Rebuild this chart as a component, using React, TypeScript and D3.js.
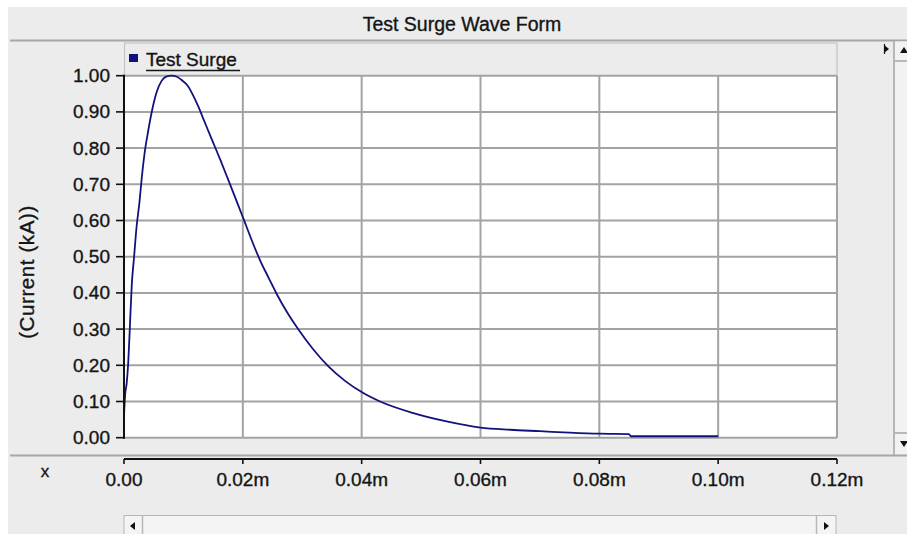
import React from "react";
import * as d3 from "d3";

// surge current samples (x in axis units, y in kA)
const surgeTime = [
  0, 0.0002, 0.00045, 0.00072, 0.001, 0.0013, 0.0017, 0.0021, 0.0026, 0.003, 0.0035,
  0.0041, 0.0048, 0.0055, 0.0063, 0.0072, 0.008, 0.0089, 0.0097, 0.0106, 0.0115,
  0.0125, 0.0135, 0.0145, 0.0162, 0.0176, 0.0192, 0.0201, 0.0218, 0.0229, 0.0243,
  0.0257, 0.0275, 0.0293, 0.0318, 0.0344, 0.0372, 0.0402, 0.0431, 0.0487, 0.0543,
  0.06, 0.065, 0.07, 0.075, 0.08, 0.085, 0.0853, 0.1,
];
const surgeCurrent = [
  0.06, 0.12, 0.15, 0.21, 0.31, 0.42, 0.5, 0.58, 0.65, 0.72, 0.79,
  0.85, 0.91, 0.955, 0.985, 0.998, 1.0, 0.997, 0.988, 0.975, 0.95,
  0.915, 0.875, 0.835, 0.768, 0.71, 0.643, 0.605, 0.533, 0.49, 0.443,
  0.397, 0.345, 0.3, 0.245, 0.197, 0.157, 0.124, 0.1, 0.068, 0.045,
  0.028, 0.022, 0.018, 0.014, 0.011, 0.01, 0.004, 0.004,
];

const xTicks = [0, 0.02, 0.04, 0.06, 0.08, 0.1, 0.12];
const xTickLabels = ["0.00", "0.02m", "0.04m", "0.06m", "0.08m", "0.10m", "0.12m"];
const yTicks = [0, 0.1, 0.2, 0.3, 0.4, 0.5, 0.6, 0.7, 0.8, 0.9, 1.0];

const seriesName = "Test Surge";
const title = "Test Surge Wave Form";
const yLabel = "(Current (kA))";

const W = 907;
const H = 534;
const font = "'Liberation Sans', Arial, sans-serif";
const ink = "#151515";
const bg = "#ececec";
const gridCol = "#a3a3a3";
const navy = "#12127c";

// slightly heavier text, like the original screen capture
const txt = { fill: ink, stroke: ink, strokeWidth: 0.35 };

const App = () => {
  const xScale = d3.scaleLinear().domain([0, 0.12]).range([124, 837]);
  const yScale = d3.scaleLinear().domain([0, 1]).range([437.7, 75.7]);
  const pts = surgeTime.map((t, i) => [t, surgeCurrent[i]] as [number, number]);
  const line = d3.line<[number, number]>()
    .x(d => xScale(d[0]))
    .y(d => yScale(d[1]))
    .curve(d3.curveMonotoneX);
  const fmt = d3.format(".2f");

  const left = xScale(0);
  const right = xScale(0.12);
  const top = yScale(1);
  const bottom = yScale(0);

  return (
    <svg width={W} height={H} style={{ position: "absolute", left: 0, top: 0 }} fontFamily={font}>
      <rect x={0} y={0} width={W} height={H} fill="#fff" />
      <rect x={8} y={7} width={W - 8} height={H - 7} fill={bg} />

      {/* title bar */}
      <text x={462} y={24} textAnchor="middle" dominantBaseline="central" fontSize={19.5} {...txt}>{title}</text>
      <line x1={10} x2={W} y1={40.5} y2={40.5} stroke="#a6a6a6" strokeWidth={2} />

      {/* right panel + scrollbar */}
      <line x1={894} x2={894} y1={41} y2={455} stroke="#a6a6a6" strokeWidth={1.5} />
      <rect x={895} y={41.5} width={12} height={413} fill="#f2f2f2" />
      <line x1={895} x2={W} y1={61} y2={61} stroke="#a6a6a6" strokeWidth={1.5} />
      <line x1={895} x2={W} y1={433} y2={433} stroke="#a6a6a6" strokeWidth={1.5} />
      <path d="M900,53 L904,47 L908,53 Z" fill="#111" />
      <path d="M900,441 L904,447 L908,441 Z" fill="#111" />
      <path d="M884,45 L889,49 L884,53 Z" fill="#111" />
      <line x1={884.5} x2={884.5} y1={44} y2={54} stroke="#111" strokeWidth={1.2} />

      {/* legend */}
      <rect x={124.5} y={43} width={712.5} height={33} fill={bg} stroke="#c4c4c4" strokeWidth={1.2} />
      <rect x={129} y={54} width={9} height={8} fill={navy} />
      <text x={146} y={66} fontSize={19} {...txt}>{seriesName}</text>
      <line x1={146} x2={240} y1={70.5} y2={70.5} stroke={ink} strokeWidth={1.3} />

      {/* plot area */}
      <rect x={left} y={top} width={right - left} height={bottom - top} fill="#fff" />
      {yTicks.map(v => (
        <line key={"gy" + v} x1={left} x2={right} y1={yScale(v)} y2={yScale(v)} stroke={gridCol} strokeWidth={2} />
      ))}
      {xTicks.map(v => (
        <line key={"gx" + v} x1={xScale(v)} x2={xScale(v)} y1={top} y2={bottom} stroke={gridCol} strokeWidth={2} />
      ))}
      <path d={line(pts) || ""} fill="none" stroke={navy} strokeWidth={1.8} strokeLinejoin="round" />
      <line x1={left} x2={left} y1={top - 1} y2={bottom + 1} stroke="#111" strokeWidth={2} />

      {/* y axis */}
      {yTicks.map(v => (
        <g key={"yt" + v}>
          <line x1={left - 8} x2={left} y1={yScale(v)} y2={yScale(v)} stroke="#111" strokeWidth={1.6} />
          <text x={110} y={yScale(v)} textAnchor="end" dominantBaseline="central" fontSize={19} {...txt}>{fmt(v)}</text>
        </g>
      ))}
      <text transform={`translate(26,272) rotate(-90)`} textAnchor="middle" dominantBaseline="central" fontSize={20.5} letterSpacing={0.6} {...txt}>{yLabel}</text>

      {/* bottom separator and x axis */}
      <line x1={10} x2={W} y1={455.5} y2={455.5} stroke="#a6a6a6" strokeWidth={2} />
      <line x1={left} x2={right} y1={459} y2={459} stroke="#111" strokeWidth={2} />
      {xTicks.map((v, i) => (
        <g key={"xt" + v}>
          <line x1={xScale(v)} x2={xScale(v)} y1={459} y2={464} stroke="#111" strokeWidth={1.6} />
          <text x={xScale(v)} y={479} textAnchor="middle" dominantBaseline="central" fontSize={19} {...txt}>{xTickLabels[i]}</text>
        </g>
      ))}
      <text x={45} y={471} textAnchor="middle" dominantBaseline="central" fontSize={17} {...txt}>x</text>

      {/* bottom scrollbar */}
      <rect x={124} y={515.5} width={712} height={H - 515} fill="#f4f4f4" stroke="#b8b8b8" strokeWidth={1} />
      <line x1={142.5} x2={142.5} y1={515.5} y2={H} stroke="#b8b8b8" strokeWidth={1.5} />
      <line x1={816.5} x2={816.5} y1={515.5} y2={H} stroke="#b8b8b8" strokeWidth={1.5} />
      <path d="M135,522 L130,526 L135,530 Z" fill="#111" />
      <path d="M824,522 L829,526 L824,530 Z" fill="#111" />
    </svg>
  );
};

export default App;
